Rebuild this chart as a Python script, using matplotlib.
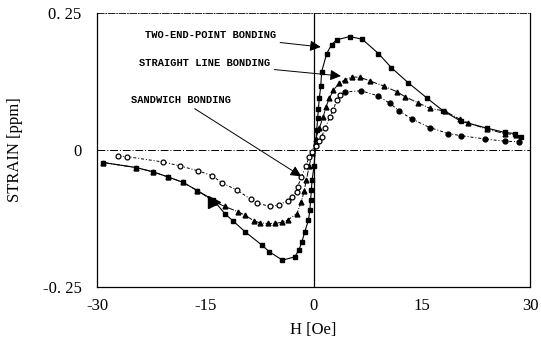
import matplotlib
matplotlib.use("Agg")
import matplotlib.pyplot as plt
import numpy as np

# two-end-point bonding (filled squares, solid line)
h_two = [-29.1, -24.6, -22.2, -20.2, -18.1, -16.1, -13.9, -12.3, -11.1, -9.5, -7.2, -6.1, -4.3, -2.6, -2.0,
         -1.6, -1.2, -0.7, -0.5, -0.4, -0.3, -0.2, 0.07, 0.3, 0.44, 0.58, 0.67, 0.8, 1.0, 1.13, 1.83, 2.5,
         3.2, 5.05, 6.76, 9.0, 10.8, 13.1, 15.7, 17.9, 20.5, 24.0, 26.5, 27.9, 28.7]
s_two = [-0.023, -0.032, -0.040, -0.049, -0.059, -0.074, -0.091, -0.116, -0.130, -0.149, -0.173, -0.186,
         -0.201, -0.195, -0.182, -0.167, -0.149, -0.128, -0.109, -0.091, -0.073, -0.055, -0.030, 0.010,
         0.036, 0.058, 0.074, 0.094, 0.116, 0.143, 0.176, 0.192, 0.201, 0.207, 0.202, 0.176, 0.150, 0.123,
         0.095, 0.072, 0.052, 0.040, 0.032, 0.030, 0.024]

# straight line bonding (filled triangles, dash-dot line)
h_line = [-29.1, -24.6, -22.2, -20.2, -18.1, -16.1, -13.8, -12.3, -10.4, -9.5, -8.3, -7.4, -6.3, -5.3, -4.4,
          -3.6, -2.3, -1.7, -1.3, -1.0, -0.6, -0.2, 0.3, 0.8, 1.36, 1.73, 2.2, 2.74, 3.57, 4.36, 5.3, 6.4,
          7.8, 9.7, 11.6, 12.7, 14.5, 16.1, 18.2, 20.3, 21.4, 24.0, 26.5, 28.0]
s_line = [-0.023, -0.032, -0.040, -0.049, -0.059, -0.074, -0.094, -0.103, -0.113, -0.119, -0.129, -0.133,
          -0.134, -0.134, -0.132, -0.128, -0.116, -0.095, -0.075, -0.055, -0.030, -0.005, 0.020, 0.040,
          0.061, 0.079, 0.094, 0.109, 0.122, 0.128, 0.133, 0.133, 0.126, 0.117, 0.106, 0.097, 0.086, 0.076,
          0.071, 0.056, 0.050, 0.038, 0.030, 0.028]

# sandwich bonding (circles, dotted line)
h_sand = [-27.1, -25.9, -20.8, -18.5, -16.0, -14.0, -12.7, -10.6, -8.7, -7.8, -6.0, -4.8, -3.6, -3.0, -2.3,
          -2.2, -1.7, -1.1, -0.6, -0.2, 0.3, 0.7, 1.13, 1.6, 2.3, 2.74, 3.2, 3.7, 4.36, 6.6, 8.9, 10.6, 11.9,
          13.7, 16.1, 18.7, 20.5, 23.8, 26.5, 28.5]
s_sand = [-0.011, -0.012, -0.022, -0.029, -0.038, -0.047, -0.060, -0.073, -0.090, -0.097, -0.103, -0.100,
          -0.093, -0.085, -0.076, -0.067, -0.050, -0.030, -0.013, -0.003, 0.008, 0.017, 0.024, 0.040, 0.061,
          0.073, 0.091, 0.100, 0.106, 0.108, 0.099, 0.085, 0.071, 0.056, 0.041, 0.030, 0.026, 0.020, 0.016,
          0.015]

xticks = [-30, -15, 0, 15, 30]
xtick_labels = ["-30", "-15", "0", "15", "30"]
yticks = [-0.25, 0, 0.25]
ytick_labels = ["-0. 25", "0", "0. 25"]

fig = plt.figure(figsize=(5.41, 3.39), dpi=100)
ax = fig.add_axes([0.1793, 0.1534, 0.8004, 0.8083])

ax.axhline(0, color="black", lw=0.7, ls=(0, (8, 2, 1, 2)), zorder=1)
ax.axvline(0, color="black", lw=0.9, zorder=1)

ax.plot(h_two, s_two, color="black", lw=0.8, marker="s", ms=3.5, zorder=3)
ax.plot(h_line, s_line, color="black", lw=0.7, ls="-.", marker="^", ms=3.5, zorder=3)
ax.plot(h_line[6], s_line[6], color="black", marker=">", ms=8, ls="none", zorder=3)  # odd large mark

h_sand = np.array(h_sand)
s_sand = np.array(s_sand)
ax.plot(h_sand, s_sand, color="black", lw=0.7, ls=(0, (3, 2, 1, 2)), zorder=3)
filled = h_sand > 4
ax.plot(h_sand[~filled], s_sand[~filled], ls="none", marker="o", ms=3.5, mfc="white", mec="black", mew=0.9, zorder=4)
ax.plot(h_sand[filled], s_sand[filled], ls="none", marker="o", ms=3.5, color="black", zorder=4)

arrow = dict(arrowstyle="-|>", color="black", lw=0.7, mutation_scale=16, shrinkA=1, shrinkB=0)
lab_font = dict(family="Liberation Mono", weight="bold", size=7.5, ha="right", va="center")
ax.annotate("TWO-END-POINT BONDING", xy=(1.0, 0.188), xytext=(-5.2, 0.210), arrowprops=arrow, **lab_font)
ax.annotate("STRAIGHT LINE BONDING", xy=(3.8, 0.135), xytext=(-6.0, 0.159), arrowprops=arrow, **lab_font)
ax.annotate("SANDWICH BONDING", xy=(-1.7, -0.048), xytext=(-11.4, 0.091), arrowprops=arrow, **lab_font)

ax.set_xlim(-30, 30)
ax.set_ylim(-0.25, 0.25)
ax.set_xticks(xticks)
ax.set_xticklabels(xtick_labels, family="Liberation Serif", fontsize=12)
ax.set_yticks(yticks)
ax.set_yticklabels(ytick_labels, family="Liberation Serif", fontsize=12)
ax.tick_params(axis="both", length=0)
ax.tick_params(axis="y", pad=11)
ax.tick_params(axis="x", pad=8)

for side in ["left", "bottom", "right"]:
    ax.spines[side].set_linewidth(0.9)
ax.spines["top"].set_linewidth(0.6)
ax.spines["top"].set_linestyle((0, (8, 2, 1, 2)))

ax.set_xlabel("H [Oe]", family="Liberation Serif", fontsize=12, labelpad=6)
ax.set_ylabel("STRAIN [ppm]", family="Liberation Serif", fontsize=12, labelpad=14)

fig.savefig("out.png", dpi=100)
